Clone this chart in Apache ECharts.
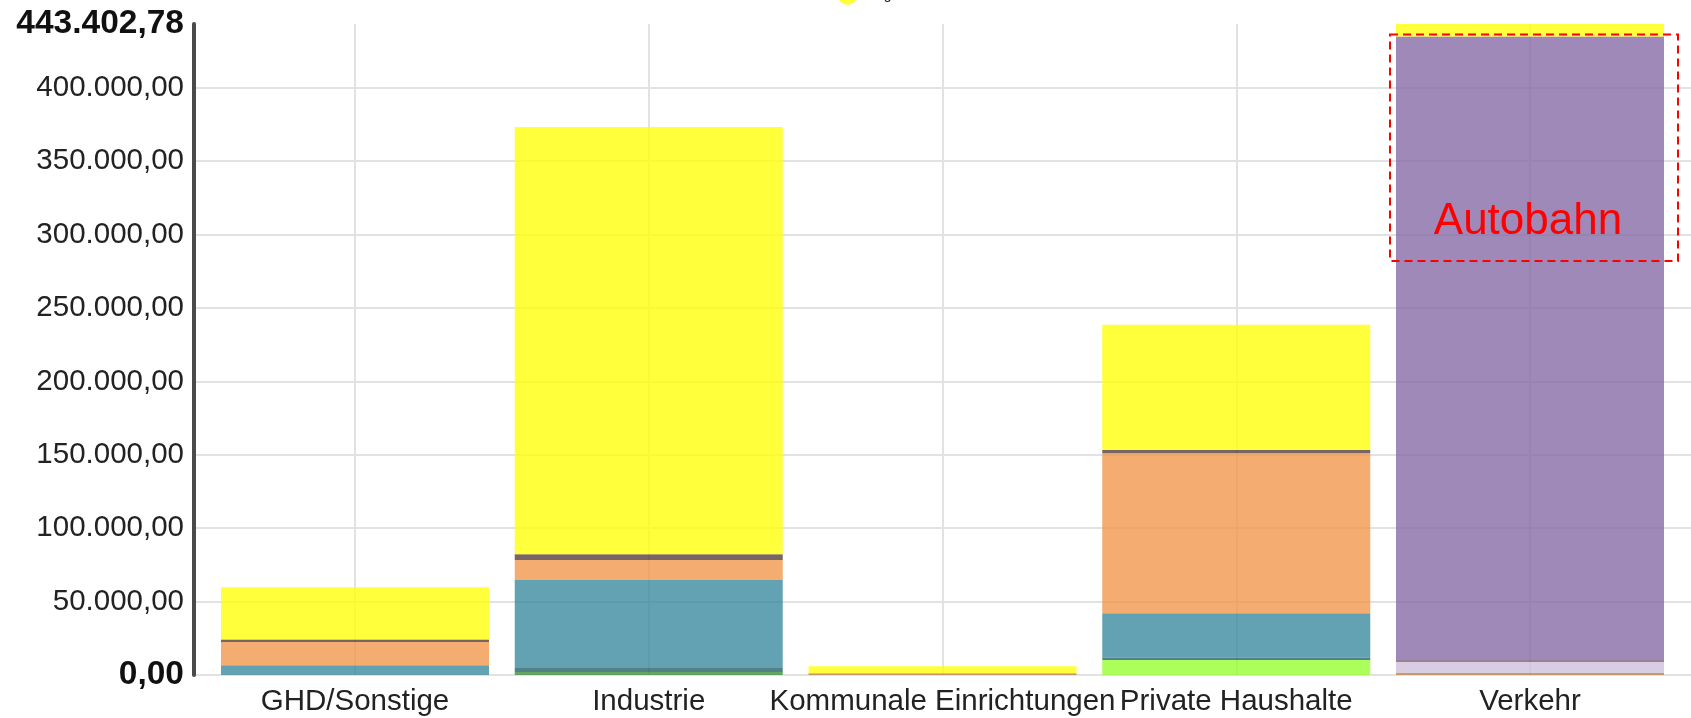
<!DOCTYPE html>
<html>
<head>
<meta charset="utf-8">
<script src="https://cdn.jsdelivr.net/npm/echarts@6/dist/echarts.min.js"></script>
<style>
  html, body { margin: 0; padding: 0; background: #fff; }
  #chart { width: 1691px; height: 718px; }
</style>
</head>
<body>
<div id="chart"></div>
<script>
// Sektoren
const categories = ['GHD/Sonstige', 'Industrie', 'Kommunale Einrichtungen', 'Private Haushalte', 'Verkehr'];

// Werte je Energieträger (von unten nach oben gestapelt)
const biomasse    = [0, 0, 1200, 0, 1600];
const biogas      = [0, 2000, 0, 0, 0];
const umwelt      = [0, 0, 0, 10200, 0];
const fluessiggas = [0, 2700, 0, 1800, 0];
const benzin      = [0, 0, 0, 0, 7500];
const heizoel     = [6600, 60000, 0, 30000, 0];
const fernwaerme  = [15900, 13600, 0, 109000, 0];
const kohle       = [1700, 3900, 0, 2200, 1000];
const diesel      = [0, 0, 0, 0, 424800];
const erdgas      = [35600, 291000, 4800, 85400, 8502.78];

const yMax = 443402.78;
const yStep = 50000;

// Zahl im deutschen Format: 400.000,00
function deNum(v) {
  let parts = v.toFixed(2).split('.');
  let int = parts[0].replace(/\B(?=(\d{3})+(?!\d))/g, '.');
  return int + ',' + parts[1];
}

let chart = echarts.init(document.getElementById('chart'));

function bar(name, data, color) {
  return {
    name: name,
    type: 'bar',
    stack: 'gesamt',
    xAxisIndex: 1,
    yAxisIndex: 1,
    barWidth: 268,
    clip: false,
    itemStyle: { color: color, opacity: 0.8 },
    emphasis: { disabled: true },
    data: data
  };
}

let option = {
  animation: false,
  textStyle: { fontFamily: 'Liberation Sans, Arial, sans-serif' },
  legend: {
    data: ['Erdgas'],
    left: 838,
    top: 0,
    padding: [-14, 5, 0, 0],
    icon: 'circle',
    itemWidth: 19,
    itemHeight: 19,
    itemGap: 10,
    textStyle: { fontSize: 14, color: '#222' }
  },
  grid: [
    { left: 194, right: 0, top: 24, bottom: 43 },
    { left: 355, right: 161, top: 24, bottom: 43 }
  ],
  xAxis: [
    { gridIndex: 0, type: 'value', show: false, min: 0, max: 1 },
    {
      gridIndex: 1,
      type: 'category',
      data: categories,
      boundaryGap: false,
      axisLine: { show: false },
      axisTick: { show: false },
      splitLine: { show: true, lineStyle: { color: '#e2e2e2', width: 2 } },
      axisLabel: {
        interval: 0,
        hideOverlap: false,
        fontSize: 29.5,
        color: '#222',
        margin: 12
      }
    }
  ],
  yAxis: [
    {
      gridIndex: 0,
      type: 'value',
      min: 0,
      max: yMax,
      interval: yStep,
      axisLine: { show: true, lineStyle: { color: '#4a4a4a', width: 4 } },
      axisTick: { show: false },
      splitLine: {
        show: true,
        showMinLine: true,
        showMaxLine: false,
        lineStyle: { color: '#e2e2e2', width: 2 }
      },
      axisLabel: {
        showMinLabel: true,
        showMaxLabel: true,
        fontSize: 29.5,
        color: '#222',
        margin: 10,
        formatter: function (v) {
          if (v === 0 || v === yMax) return '{b|' + deNum(v) + '}';
          return deNum(v);
        },
        rich: {
          b: { fontSize: 33.5, fontWeight: 'bold', color: '#111' }
        }
      }
    },
    { gridIndex: 1, type: 'value', min: 0, max: yMax, show: false }
  ],
  series: [
    bar('Biomasse', biomasse, '#ba8250'),
    bar('Biogas', biogas, '#3d8e3d'),
    bar('Umweltwärme', umwelt, '#97ff31'),
    bar('Flüssiggas', fluessiggas, '#246369'),
    bar('Benzin', benzin, '#cec1db'),
    bar('Heizöl', heizoel, '#3b8b9f'),
    bar('Fernwärme', fernwaerme, '#f2974c'),
    bar('Kohle', kohle, '#563d3d'),
    bar('Diesel', diesel, '#876ba6'),
    bar('Erdgas', erdgas, '#ffff0b')
  ],
  graphic: [
    {
      type: 'rect',
      z: 100,
      shape: { x: 1390, y: 34.5, width: 288, height: 226.5 },
      style: { fill: 'none', stroke: '#ff0000', lineWidth: 2, lineDash: [8, 5] }
    },
    {
      type: 'text',
      z: 100,
      x: 1528,
      y: 222,
      style: {
        text: 'Autobahn',
        fill: '#ff0000',
        font: '44px "Liberation Sans", Arial, sans-serif',
        align: 'center',
        verticalAlign: 'middle'
      }
    }
  ]
};

chart.setOption(option);
</script>
</body>
</html>
